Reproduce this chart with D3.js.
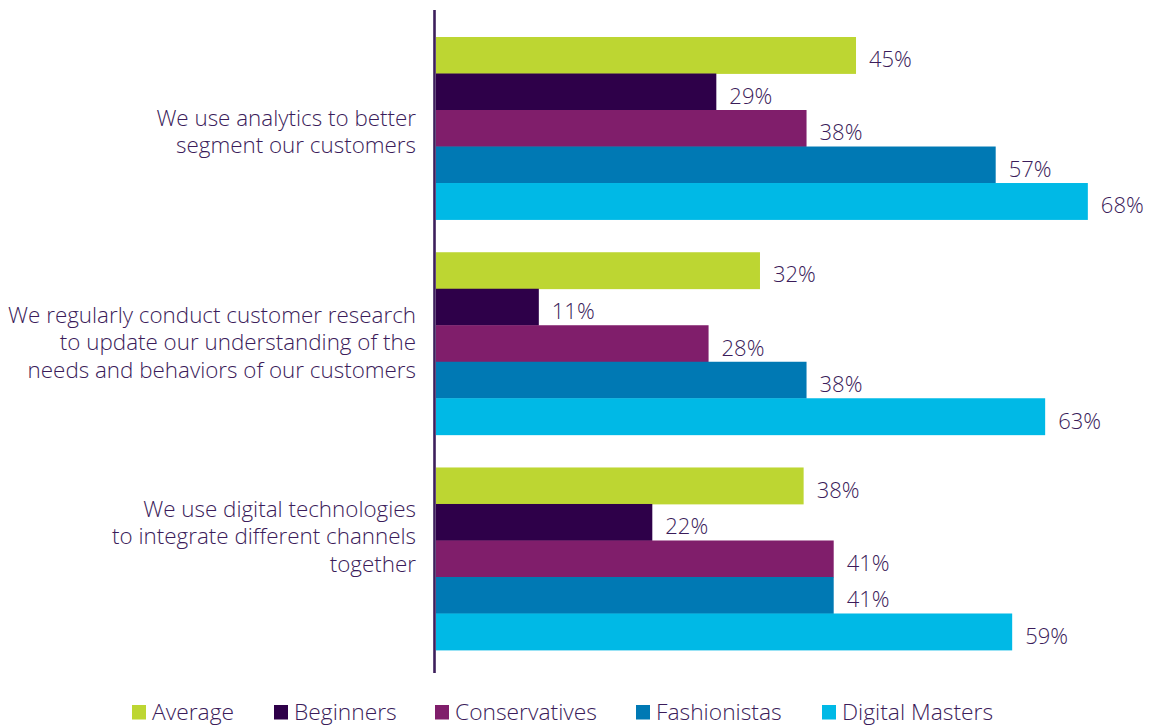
<!DOCTYPE html>
<html>
<head>
<meta charset="utf-8">
<script src="https://cdn.jsdelivr.net/npm/d3@7"></script>
<style>
  html, body { margin: 0; padding: 0; background: #fff; }
  svg { display: block; }
  text { font-family: "Open Sans", sans-serif; font-weight: 300; fill: #3b1c5a; }
</style>
</head>
<body>
<svg id="chart" width="1155" height="726"></svg>
<script>
// ---- data ----
const categories = [
  ["We use analytics to better", "segment our customers"],
  ["We regularly conduct customer research", "to update our understanding of the", "needs and behaviors of our customers"],
  ["We use digital technologies", "to integrate different channels", "together"]
];
const seriesNames = ["Average", "Beginners", "Conservatives", "Fashionistas", "Digital Masters"];
const seriesColors = ["#bdd632", "#2e0049", "#801e6b", "#0079b4", "#00b9e6"];
// bar lengths (percent)
const average       = [43.3, 33.4, 37.9];
const beginners     = [28.9, 10.6, 22.3];
const conservatives = [38.2, 28.1, 41.0];
const fashionistas  = [57.7, 38.2, 41.0];
const digitalMasters= [67.2, 62.8, 59.4];
// printed value labels
const averageLabels       = ["45%", "32%", "38%"];
const beginnersLabels     = ["29%", "11%", "22%"];
const conservativesLabels = ["38%", "28%", "41%"];
const fashionistasLabels  = ["57%", "38%", "41%"];
const digitalMastersLabels= ["68%", "63%", "59%"];

const values = [average, beginners, conservatives, fashionistas, digitalMasters];
const labels = [averageLabels, beginnersLabels, conservativesLabels, fashionistasLabels, digitalMastersLabels];

// ---- layout ----
const svg = d3.select("#chart");
const x = d3.scaleLinear().domain([0, 70]).range([436, 436 + 70 * 9.7]);
const catIdx = d3.range(categories.length);
const y0 = d3.scaleBand().domain(catIdx).range([37, 650]).paddingInner(0.152);
const y1 = d3.scaleBand().domain(d3.range(seriesNames.length)).range([0, y0.bandwidth()]);

const rows = [];
catIdx.forEach(ci => {
  seriesNames.forEach((s, si) => {
    rows.push({ci, si, v: values[si][ci], label: labels[si][ci]});
  });
});

svg.append("g").selectAll("rect").data(rows).join("rect")
  .attr("x", x(0))
  .attr("y", d => y0(d.ci) + y1(d.si))
  .attr("width", d => x(d.v) - x(0))
  .attr("height", y1.bandwidth() + 0.4)
  .attr("fill", d => seriesColors[d.si]);

svg.append("g").selectAll("text").data(rows).join("text")
  .attr("x", d => x(d.v) + 13)
  .attr("y", d => y0(d.ci) + y1(d.si) + y1.bandwidth() / 2 + 3)
  .attr("dominant-baseline", "central")
  .attr("font-size", 22)
  .text(d => d.label);

// axis line
svg.append("line")
  .attr("x1", 434.5).attr("x2", 434.5)
  .attr("y1", 10).attr("y2", 673)
  .attr("stroke", "#3d1f5c").attr("stroke-width", 2.6);

// category labels
const firstBaselineOffset = [89, 70.75, 49.5];
const lineH = 27.3;
catIdx.forEach(ci => {
  const t = svg.append("text")
    .attr("text-anchor", "end")
    .attr("font-size", 22.4);
  categories[ci].forEach((line, li) => {
    t.append("tspan")
      .attr("x", 416)
      .attr("y", y0(ci) + firstBaselineOffset[ci] + li * lineH)
      .text(line);
  });
});

// legend
const legendX = [132, 274, 435, 636, 822];
const lg = svg.append("g").selectAll("g").data(seriesNames).join("g")
  .attr("transform", (d, i) => `translate(${legendX[i]},705)`);
lg.append("rect").attr("width", 14).attr("height", 14.5).attr("fill", (d, i) => seriesColors[i]);
lg.append("text").attr("x", 20).attr("y", 15).attr("font-size", 22.8).text(d => d);
</script>
</body>
</html>
